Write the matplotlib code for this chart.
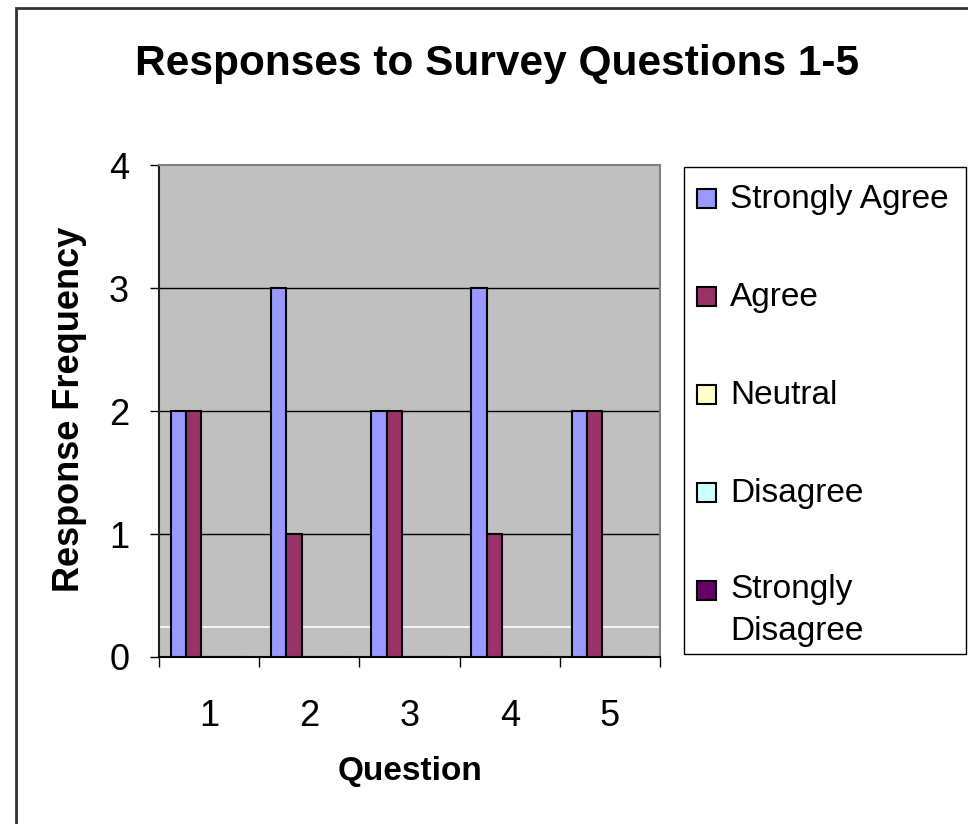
import numpy as np
import matplotlib
matplotlib.use("Agg")
import matplotlib.pyplot as plt
from matplotlib.patches import Rectangle

plt.rcParams['font.family'] = ['Liberation Sans', 'DejaVu Sans']

# --- data ---
questions = ["1", "2", "3", "4", "5"]
series_names = ["Strongly Agree", "Agree", "Neutral", "Disagree", "Strongly\nDisagree"]
strongly_agree = [2, 3, 2, 3, 2]
agree = [2, 1, 2, 1, 2]
neutral = [0, 0, 0, 0, 0]
disagree = [0, 0, 0, 0, 0]
strongly_disagree = [0, 0, 0, 0, 0]
colors = ["#9999FF", "#993366", "#FFFFCC", "#CCFFFF", "#660066"]
y_ticks = [0, 1, 2, 3, 4]

W, H = 968, 824
fig = plt.figure(figsize=(W / 100, H / 100), dpi=100)
fig.patch.set_facecolor("white")

def fx(px):
    return px / W

def fy(py):
    return 1 - py / H

# outer chart border (runs off the right/bottom edge like the original)
fig.patches.append(Rectangle((fx(16), -0.05), 1.2, fy(8) + 0.05,
                             transform=fig.transFigure, fill=False,
                             edgecolor="#333333", linewidth=2))

ax = fig.add_axes([fx(159), fy(657), (660 - 159) / W, (657 - 165) / H])
ax.set_facecolor("#C0C0C0")

x = np.arange(1, len(questions) + 1)
bw = 0.153
all_series = [strongly_agree, agree, neutral, disagree, strongly_disagree]
for k, (vals, col) in enumerate(zip(all_series, colors)):
    ax.bar(x + (k - 2) * bw, vals, width=bw, color=col,
           edgecolor="black", linewidth=1.5, zorder=3, label=series_names[k])

# gridlines and the odd white line near the bottom
for t in y_ticks[1:-1]:
    ax.axhline(t, color="black", linewidth=1, zorder=2)
ax.axhline(0.244, color="white", linewidth=1.2, zorder=2)

ax.set_xlim(0.5, len(questions) + 0.5)
ax.set_ylim(0, 4)
ax.set_yticks(y_ticks)
ax.set_yticklabels([str(t) for t in y_ticks], fontsize=26)
ax.set_xticks(np.arange(0.5, len(questions) + 1, 1.0))
ax.set_xticklabels([])
ax.set_xticks(x, minor=True)
ax.set_xticklabels(questions, minor=True, fontsize=26)
ax.tick_params(axis="x", which="major", direction="out", length=7, width=1, color="black")
ax.tick_params(axis="x", which="minor", length=0, pad=30)
ax.tick_params(axis="y", direction="out", length=6.5, width=1, color="black", pad=15)

ax.spines["left"].set_color("#202020")
ax.spines["left"].set_linewidth(1.5)
ax.spines["bottom"].set_color("black")
ax.spines["bottom"].set_linewidth(1.5)
for s in ["top", "right"]:
    ax.spines[s].set_color("#808080")
    ax.spines[s].set_linewidth(1.5)

fig.text(fx(497), fy(75), "Responses to Survey Questions 1-5",
         fontsize=30.5, fontweight="bold", ha="center", va="baseline")
fig.text(fx(410), fy(780), "Question", fontsize=24, fontweight="bold",
         ha="center", va="baseline")
fig.text(fx(70), fy(409), "Response Frequency", fontsize=26, fontweight="bold",
         rotation=90, ha="center", va="center")

# legend box drawn by hand (Excel-style: handle sits on the first line)
fig.patches.append(Rectangle((fx(684), fy(654)), (966 - 684) / W, (654 - 167) / H,
                             transform=fig.transFigure, facecolor="white",
                             edgecolor="black", linewidth=1))
line_step = 40
first_baselines = [208, 306, 404, 502, 600]
for name, col, base in zip(series_names, colors, first_baselines):
    fig.patches.append(Rectangle((fx(697), fy(base)), 19 / W, 19 / H,
                                 transform=fig.transFigure, facecolor=col,
                                 edgecolor="black", linewidth=1.5))
    last_base = base + line_step * name.count("\n")
    fig.text(fx(730), fy(last_base), name, fontsize=24, ha="left", va="baseline",
             linespacing=1.45)

fig.savefig("out.png", dpi=100)
